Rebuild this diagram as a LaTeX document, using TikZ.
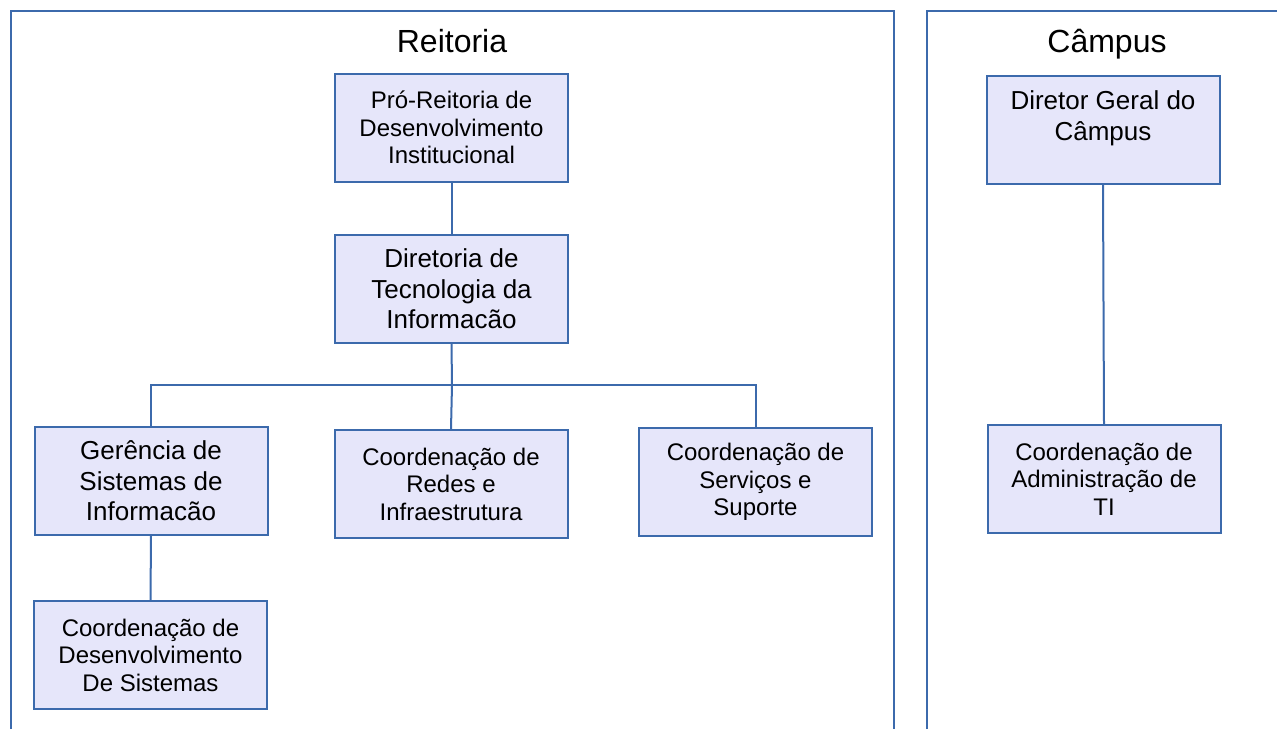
\documentclass[tikz,border=0pt]{standalone}
\usepackage{fontspec}
\setmainfont{Liberation Sans}
\definecolor{edge}{RGB}{60,106,172}
\definecolor{boxfill}{RGB}{230,230,250}
\tikzset{
  unit/.style={draw=edge, line width=2pt, fill=boxfill, minimum width=233pt, minimum height=108pt, align=center, inner sep=0pt},
  smalltxt/.style={font=\fontsize{24}{27.5}\selectfont},
  bigtxt/.style={font=\fontsize{26}{30.5}\selectfont},
  conn/.style={draw=edge, line width=2pt},
  frame/.style={draw=edge, line width=2pt},
  ttl/.style={font=\fontsize{32}{36}\selectfont, inner sep=0pt, anchor=base}
}
\begin{document}
\begin{tikzpicture}[x=1pt, y=-1pt]
\useasboundingbox (0,0) rectangle (1277,729);
\draw[frame] (11,729) -- (11,11) -- (894,11) -- (894,729);
\draw[frame] (927,729) -- (927,11) -- (1277,11);
\node[ttl] (treit) at (452,52.5) {Reitoria};
\node[ttl] (tcamp) at (1107,52.5) {Câmpus};
\node[unit, smalltxt] (prdi) at (451.5,127.5) {Pró-Reitoria de\\Desenvolvimento\\Institucional};
\node[unit, bigtxt] (dti) at (451.5,289) {Diretoria de\\Tecnologia da\\Informacão};
\node[unit, bigtxt] (gsi) at (151,481) {Gerência de\\Sistemas de\\Informacão};
\node[unit, smalltxt] (cri) at (451,484) {Coordenação de\\Redes e\\Infraestrutura};
\node[unit, smalltxt] (css) at (755.5,482) {Coordenação de\\Serviços e\\Suporte};
\node[unit, smalltxt] (cds) at (150.5,655) {Coordenação de\\Desenvolvimento\\ De Sistemas};
\node[unit, bigtxt] (dgc) at (1103,130) {Diretor Geral do\\Câmpus\\[-2pt]\mbox{}};
\node[unit, smalltxt] (cat) at (1104,479) {Coordenação de\\Administração de\\TI};
\coordinate (bus) at (452,385);
\draw[conn] (prdi.south) -- (dti.north);
\draw[conn] (dti.south) -- (bus);
\draw[conn] (gsi.north) |- (bus) -| (css.north);
\draw[conn] (bus) -- (cri.north);
\draw[conn] (gsi.south) -- (cds.north);
\draw[conn] (dgc.south) -- (cat.north);
\end{tikzpicture}
\end{document}
